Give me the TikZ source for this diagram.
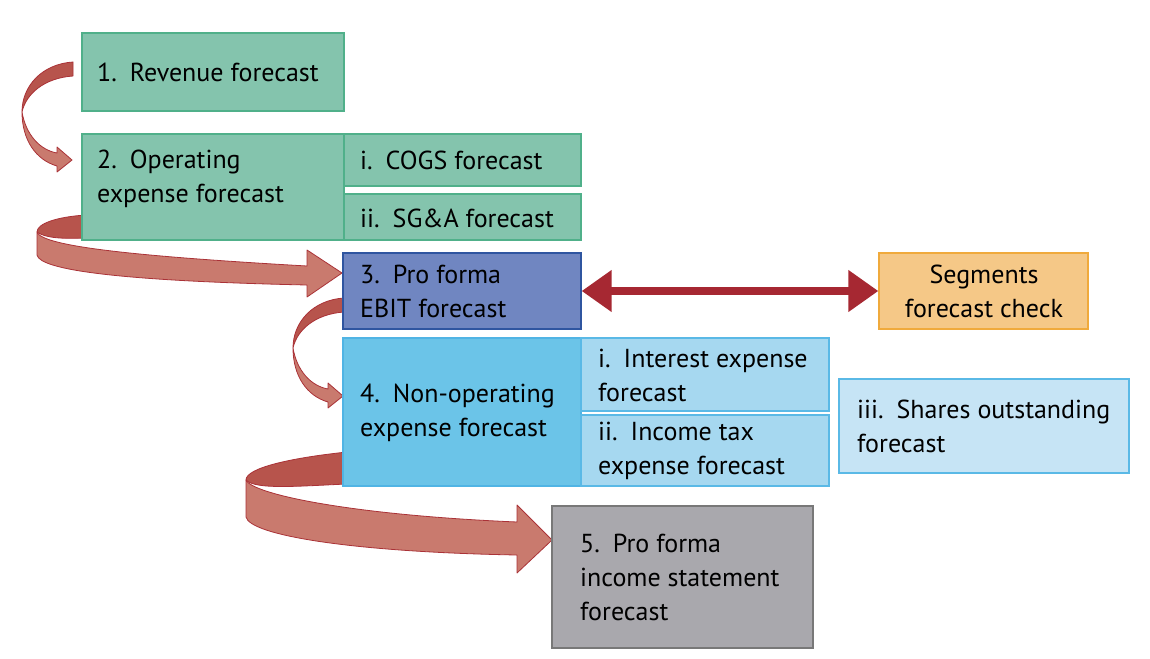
\documentclass[tikz,border=0pt]{standalone}
\usepackage{fontspec}
\setmainfont{PT Sans}
\usetikzlibrary{arrows.meta,calc}
\definecolor{grfill}{RGB}{132,196,173}
\definecolor{grline}{RGB}{80,176,138}
\definecolor{blfill}{RGB}{112,134,193}
\definecolor{blline}{RGB}{47,85,160}
\definecolor{orfill}{RGB}{245,200,135}
\definecolor{orline}{RGB}{240,170,60}
\definecolor{cyfill}{RGB}{107,196,232}
\definecolor{cyline}{RGB}{80,180,228}
\definecolor{lbfill}{RGB}{166,216,240}
\definecolor{lbline}{RGB}{90,185,230}
\definecolor{vlfill}{RGB}{198,228,245}
\definecolor{gyfill}{RGB}{169,168,173}
\definecolor{gyline}{RGB}{120,120,120}
\definecolor{rbdark}{RGB}{183,84,76}
\definecolor{rblight}{RGB}{201,122,110}
\definecolor{rbline}{RGB}{170,50,55}
\definecolor{dblarrow}{RGB}{166,40,50}
\tikzset{
  box/.style={draw, line width=1.3pt, inner sep=0pt, rectangle},
  txt/.style={inner sep=0pt, align=left, font=\fontsize{26}{34}\selectfont, text=black},
  ribdark/.style={fill=rbdark, draw=rbline, line width=0.8pt, line join=round},
  riblight/.style={fill=rblight, draw=rbline, line width=0.8pt, line join=round}
}
\newcommand{\sidearrow}{%
  \path[ribdark] (73,62) .. controls (42,64) and (22,86) .. (22,112)
     .. controls (26,94) and (44,78) .. (73,76) -- cycle;
  \path[riblight] (22,112) .. controls (22,140) and (36,160) .. (57,166)
     -- (57,172) -- (72,160) -- (57,147) -- (57,153)
     .. controls (40,150) and (26,135) .. (22,112) -- cycle;}
\begin{document}
\begin{tikzpicture}[x=1pt,y=-1pt]
\useasboundingbox (0,0) rectangle (1150,658);
\fill[white] (0,0) rectangle (1150,658);

% curved ribbon arrows (behind boxes)
\sidearrow
\begin{scope}[shift={(271,236)}]\sidearrow\end{scope}
\path[ribdark] (86,215) .. controls (55,217) and (37,224) .. (37,232)
   .. controls (45,238) and (62,239) .. (86,238) -- cycle;
\path[riblight] (37,232) .. controls (42,246) and (130,256) .. (307,266)
   -- (307,250) -- (342,273) -- (307,297) -- (307,285)
   .. controls (120,281) and (40,270) .. (37,255) -- cycle;
\path[ribdark] (347,452) .. controls (290,458) and (246,468) .. (246,480)
   .. controls (255,490) and (300,486) .. (347,484) -- cycle;
\path[riblight] (246,480) .. controls (252,494) and (350,515) .. (517,522)
   -- (517,505) -- (552,540) -- (517,573) -- (517,555)
   .. controls (350,552) and (250,535) .. (246,517) -- cycle;

% boxes
\node[box, fill=grfill, draw=grline, minimum width=262pt, minimum height=78pt] (b1) at (213,72) {};
\node[box, fill=grfill, draw=grline, minimum width=262pt, minimum height=106pt] (b2) at (213,187) {};
\node[box, fill=grfill, draw=grline, minimum width=237pt, minimum height=52pt] (b2i) at (462.5,160) {};
\node[box, fill=grfill, draw=grline, minimum width=237pt, minimum height=46pt] (b2ii) at (462.5,217) {};
\node[box, fill=blfill, draw=blline, minimum width=238pt, minimum height=76pt] (b3) at (462,291) {};
\node[box, fill=orfill, draw=orline, minimum width=209pt, minimum height=76pt] (bs) at (983.5,291) {};
\node[box, fill=cyfill, draw=cyline, minimum width=238pt, minimum height=148pt] (b4) at (462,412) {};
\node[box, fill=lbfill, draw=lbline, minimum width=248pt, minimum height=73pt] (b4i) at (705,374.5) {};
\node[box, fill=lbfill, draw=lbline, minimum width=248pt, minimum height=71pt] (b4ii) at (705,450.5) {};
\node[box, fill=vlfill, draw=lbline, minimum width=290pt, minimum height=94pt] (b4iii) at (984,426) {};
\node[box, fill=gyfill, draw=gyline, minimum width=261pt, minimum height=142pt] (b5) at (682.5,577) {};

% texts
\node[txt, anchor=west] (t1) at (97,72) {1.\enspace Revenue forecast};
\node[txt, anchor=west] (t2) at (97,179) {2.\enspace Operating\\expense forecast};
\node[txt, anchor=west] (t2i) at (360,160) {i.\enspace COGS forecast};
\node[txt, anchor=west] (t2ii) at (360,218) {ii.\enspace SG\&A forecast};
\node[txt, anchor=west] (t3) at (360,291) {3.\enspace Pro forma\\EBIT forecast};
\node[txt, align=center] (ts) at (984,291) {Segments\\forecast check};
\node[txt, anchor=west] (t4) at (360,413) {4.\enspace Non-operating\\expense forecast};
\node[txt, anchor=west] (t4i) at (598,375) {i.\enspace Interest expense\\forecast};
\node[txt, anchor=west] (t4ii) at (598,451) {ii.\enspace Income tax\\expense forecast};
\node[txt, anchor=west] (t4iii) at (857,426) {iii.\enspace Shares outstanding\\forecast};
\node[txt, anchor=west] (t5) at (580,577) {5.\enspace Pro forma\\income statement\\forecast};

% double arrow
\draw[dblarrow, line width=8pt, {Triangle[length=30pt,width=40pt]}-{Triangle[length=30pt,width=40pt]}] (b3.east) -- (bs.west);
\end{tikzpicture}
\end{document}
